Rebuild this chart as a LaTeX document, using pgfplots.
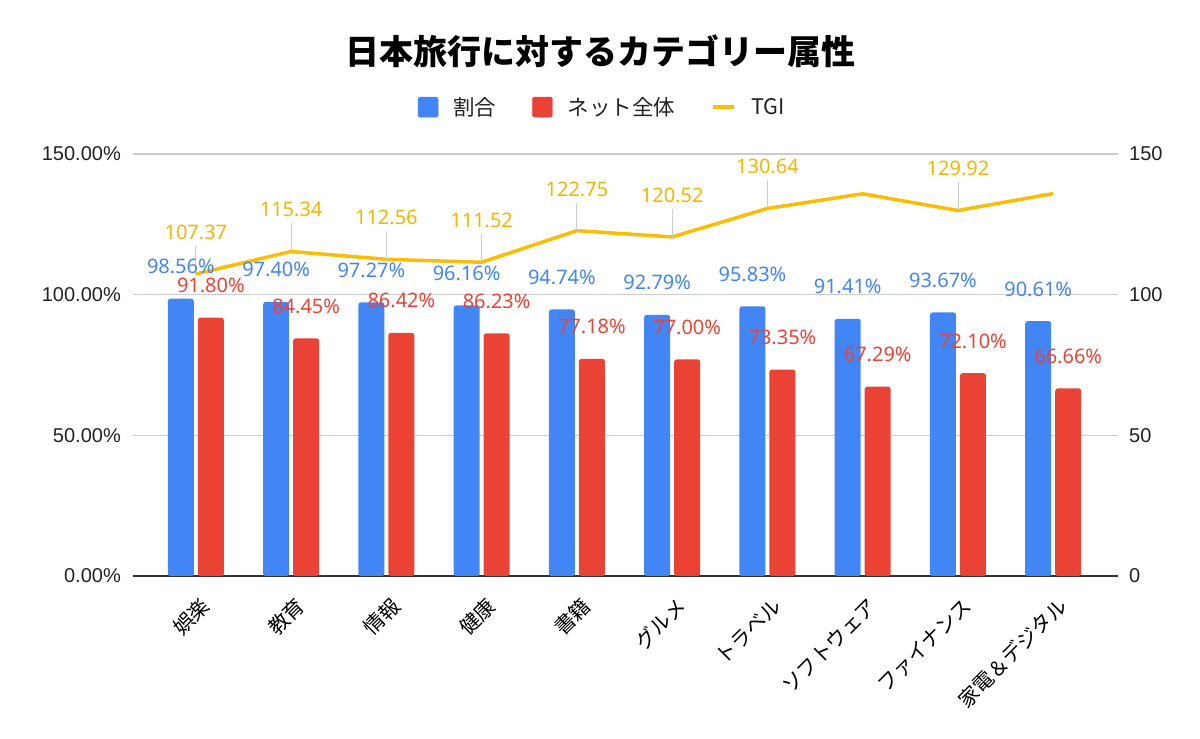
\documentclass[border=0pt]{standalone}
\usepackage{fontspec}
\usepackage{pgfplots}
\pgfplotsset{compat=1.18}
\usepackage{pgfplotstable}
\setmainfont{Noto Sans}
\newfontfamily\cjk{Noto Sans CJK JP}
\newfontfamily\arial{Liberation Sans}
\definecolor{gblue}{HTML}{4285F4}
\definecolor{gred}{HTML}{EA4335}
\definecolor{gyellow}{HTML}{FBBC04}
\definecolor{ytext}{HTML}{F4B400}
\definecolor{gridc}{HTML}{CCCCCC}
\definecolor{basec}{HTML}{333333}
\definecolor{tickc}{HTML}{222222}

\pgfplotstableread{
x tgi ey lab
0 107.37 10 107.37
1 115.34 10 115.34
2 112.56 10 112.56
3 111.52 10 111.52
4 122.75 10 122.75
5 120.52 10 120.52
6 130.64 10 130.64
7 135.85 0 {}
8 129.92 10 129.92
9 135.93 0 {}
}\tgitab

\begin{document}
\begin{tikzpicture}[x=1pt,y=1pt]
\path[use as bounding box] (0,0) rectangle (1200,739);
\node[font=\cjk\bfseries\fontsize{34}{40}\selectfont, text=black, inner sep=0pt] at (600,688) {日本旅行に対するカテゴリー属性};

% right axis: TGI
\begin{axis}[
  at={(133pt,163pt)}, anchor=south west,
  scale only axis, width=985pt, height=422pt,
  xmin=-0.66, xmax=9.68, ymin=0, ymax=150,
  axis x line=none, axis y line*=right,
  y axis line style={draw=none}, tick style={draw=none},
  ytick={0,50,100,150},
  yticklabel style={font=\arial\fontsize{20}{24}\selectfont, text=tickc, inner sep=0pt, xshift=11pt, anchor=west},
  /pgf/number format/assume math mode=true,
  clip=false,
  legend columns=3,
  legend style={at={(0.4756,1.111)}, anchor=center, draw=none, fill=none,
    font=\cjk\fontsize{21.5}{25}\selectfont, text=tickc,
    inner sep=0pt, nodes={inner sep=0pt},
    /tikz/every odd column/.append style={column sep=15pt},
    /tikz/every even column/.append style={column sep=36pt}},
]
\addlegendimage{legend image code/.code={\fill[gblue, rounded corners=2pt] (0pt,-10pt) rectangle (20pt,10pt);}}
\addlegendentry{割合}
\addlegendimage{legend image code/.code={\fill[gred, rounded corners=2pt] (0pt,-10pt) rectangle (20pt,10pt);}}
\addlegendentry{ネット全体}
\addplot[draw=gyellow, line width=3.5pt, mark=none,
  legend image code/.code={\draw[gyellow, line width=4.5pt] (0pt,0pt) -- (21pt,0pt);},
  point meta=explicit symbolic,
  nodes near coords,
  every node near coord/.append style={font=\fontsize{20}{24}\selectfont, text=ytext, inner sep=0pt, yshift=32.5pt},
  error bars/.cd, y dir=plus, y explicit, error mark=none,
  error bar style={draw=gridc, line width=0.9pt}]
  table[x=x, y=tgi, y error=ey, meta=lab] {\tgitab};
\addlegendentry{TGI}
\end{axis}

% left axis: bars
\begin{axis}[
  at={(133pt,163pt)}, anchor=south west,
  scale only axis, width=985pt, height=422pt,
  xmin=-0.66, xmax=9.68, ymin=0, ymax=150,
  ybar, bar width=26pt,
  axis x line*=bottom, axis y line*=left,
  x axis line style={draw=basec, line width=1.3pt, -},
  y axis line style={draw=none},
  tick style={draw=none},
  ymajorgrids, grid style={draw=gridc, line width=1.2pt},
  xtick={0,...,9},
  xticklabels={娯楽,教育,情報,健康,書籍,グルメ,トラベル,ソフトウェア,ファイナンス,家電＆デジタル},
  xticklabel style={font=\cjk\fontsize{20.5}{24}\selectfont, text=black, inner sep=0pt, xshift=10pt, yshift=-22pt, rotate=45, anchor=east},
  ytick={0,50,100,150},
  yticklabel={\pgfmathprintnumber[fixed,fixed zerofill,precision=2]{\tick}\%},
  yticklabel style={font=\arial\fontsize{20}{24}\selectfont, text=tickc, inner sep=0pt, xshift=-12pt, anchor=east},
  /pgf/number format/assume math mode=true,
  nodes near coords={\pgfmathprintnumber[fixed,fixed zerofill,precision=2]{\pgfplotspointmeta}\%},
  every node near coord/.append style={font=\fontsize{20}{24}\selectfont, inner sep=0pt, yshift=24.5pt},
  clip=false,
]
\addplot[fill=gblue, draw=none, bar shift=-15pt, rounded corners=2.5pt,
  every node near coord/.append style={text=gblue}]
  coordinates {(0,98.56) (1,97.40) (2,97.27) (3,96.16) (4,94.74) (5,92.79) (6,95.83) (7,91.41) (8,93.67) (9,90.61)};
\addplot[fill=gred, draw=none, bar shift=15pt, rounded corners=2.5pt,
  every node near coord/.append style={text=gred}]
  coordinates {(0,91.80) (1,84.45) (2,86.42) (3,86.23) (4,77.18) (5,77.00) (6,73.35) (7,67.29) (8,72.10) (9,66.66)};
\end{axis}
\end{tikzpicture}
\end{document}
